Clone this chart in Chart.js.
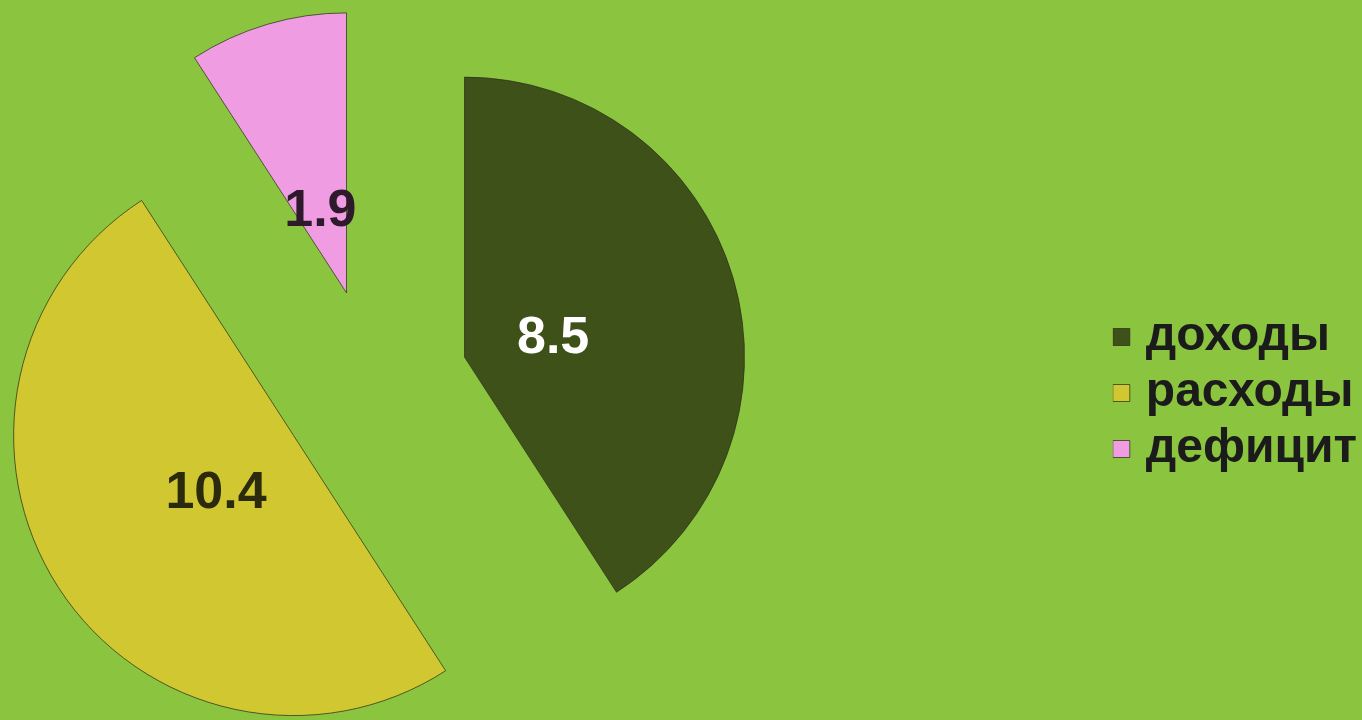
<!DOCTYPE html>
<html lang="ru">
<head>
<meta charset="utf-8">
<title>Бюджет</title>
<script src="https://cdn.jsdelivr.net/npm/chart.js@4.4.1/dist/chart.umd.min.js"></script>
<style>
  html, body { margin: 0; padding: 0; background: #8bc540; overflow: hidden; }
  /* canvas runs past the left edge so the pie sits left while the legend stays right */
  #wrap { position: relative; width: 1733px; height: 720px; margin-left: -366px; }
</style>
</head>
<body>
<div id="wrap"><canvas id="budgetChart"></canvas></div>
<script>
const categories = ['доходы', 'расходы', 'дефицит'];
const values = [8.5, 10.4, 1.9];
const sliceColors = ['#3e5119', '#d1c831', '#f09ce2'];
const labelColors = ['#ffffff', '#2b2a0c', '#2e1a2c'];

const FONT = '"Liberation Sans", Arial, sans-serif';

// Excel-style explosion: move the slice along its bisector, keep the radius
class ExplodedArc extends Chart.ArcElement {
  static id = 'explodedArc';
  static defaults = Chart.ArcElement.defaults;
  static defaultRoutes = Chart.ArcElement.defaultRoutes;
  draw(ctx) {
    const opts = this.options;
    const shift = opts.offset || 0;
    const mid = (this.startAngle + this.endAngle) / 2;
    ctx.save();
    ctx.translate(Math.cos(mid) * shift, Math.sin(mid) * shift);
    this.options = Object.assign({}, opts, { offset: 0 });
    super.draw(ctx);
    this.options = opts;
    ctx.restore();
  }
}
class ExplodedPie extends Chart.PieController {
  static id = 'explodedPie';
  static defaults = { dataElementType: 'explodedArc' };
}
Chart.register(ExplodedArc, ExplodedPie);

const valueLabels = {
  id: 'valueLabels',
  afterDatasetsDraw(chart) {
    const ctx = chart.ctx;
    const size = 52;
    chart.getDatasetMeta(0).data.forEach((arc, i) => {
      const mid = (arc.startAngle + arc.endAngle) / 2;
      const dist = (arc.options.offset || 0) + arc.outerRadius * 0.33;
      ctx.save();
      ctx.font = 'bold ' + size + 'px ' + FONT;
      ctx.fillStyle = labelColors[i];
      ctx.textAlign = 'center';
      ctx.textBaseline = 'middle';
      ctx.fillText(String(values[i]), arc.x + Math.cos(mid) * dist, arc.y + Math.sin(mid) * dist + size * 0.15);
      ctx.restore();
    });
  }
};

new Chart(document.getElementById('budgetChart'), {
  type: 'explodedPie',
  data: {
    labels: categories,
    datasets: [{
      data: values,
      backgroundColor: sliceColors,
      borderColor: 'rgba(45,50,25,0.75)',
      borderWidth: 1,
      offset: 95
    }]
  },
  options: {
    responsive: true,
    maintainAspectRatio: false,
    animation: false,
    radius: 280,
    layout: { padding: { left: 0, top: 48, right: 0, bottom: 0 } },
    plugins: {
      legend: {
        position: 'right',
        title: { display: true, text: ' ', padding: 0, font: { size: 15, lineHeight: 1.2 } },
        labels: {
          usePointStyle: true,
          pointStyle: 'rect',
          boxWidth: 1,
          boxHeight: 17,
          padding: 8,
          color: '#1b1b1b',
          font: { family: FONT, size: 48, weight: 'bold' }
        }
      },
      tooltip: { enabled: false }
    }
  },
  plugins: [valueLabels]
});
</script>
</body>
</html>
